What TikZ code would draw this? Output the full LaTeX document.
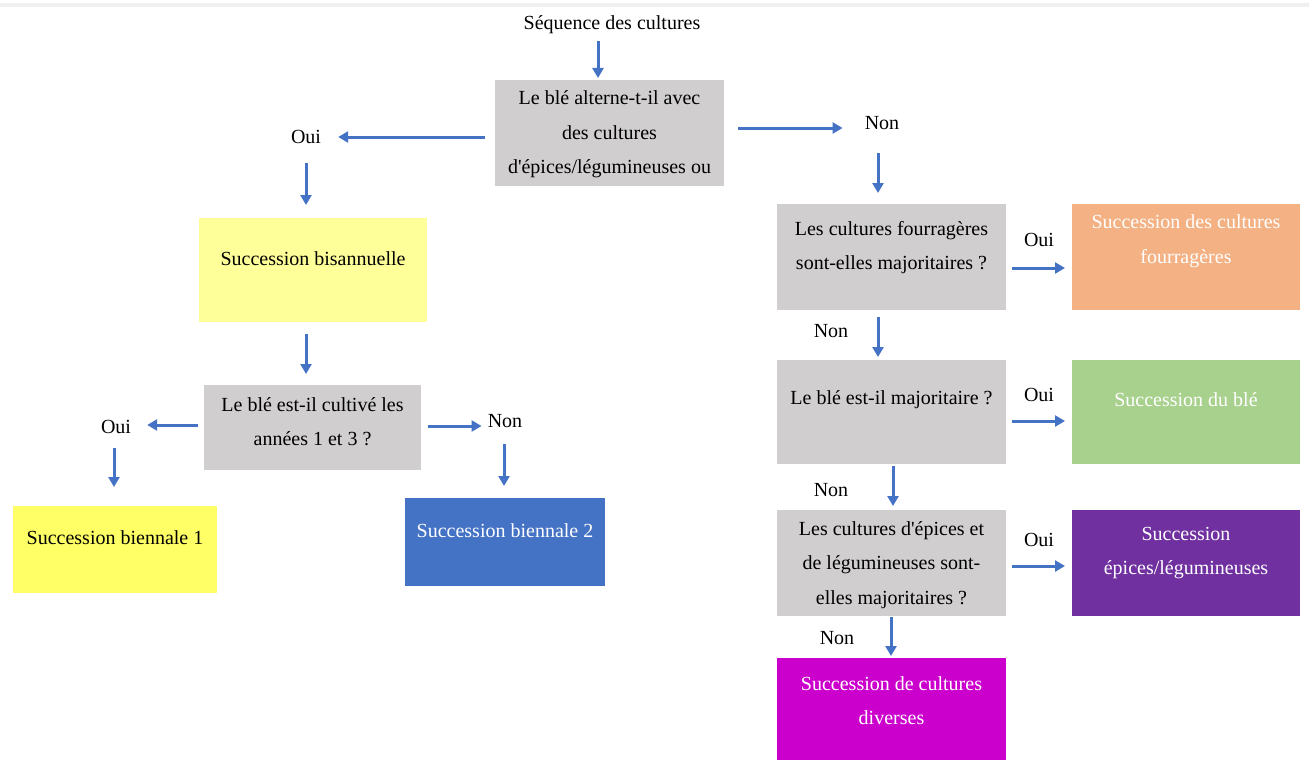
\documentclass[tikz,border=0pt]{standalone}
\usepackage{fontspec}
\setmainfont{Liberation Serif}
\usetikzlibrary{arrows.meta, calc, positioning}
\definecolor{flowblue}{HTML}{4472C4}
\definecolor{boxgray}{HTML}{D0CECE}
\definecolor{paleyellow}{HTML}{FFFF99}
\definecolor{brightyellow}{HTML}{FFFF66}
\definecolor{fourrage}{HTML}{F4B183}
\definecolor{bleggreen}{HTML}{A9D18E}
\definecolor{epicpurple}{HTML}{7030A0}
\definecolor{divmagenta}{HTML}{CC00CC}

\begin{document}
\begin{tikzpicture}[x=1pt, y=-1pt,% one unit = one pixel of the layout
      font = \fontsize{20}{34.5}\selectfont,
         > = {Triangle[length=10pt, width=11pt]},
arr/.style = {->, draw=flowblue, line width=3pt},
box/.style = {minimum width=229pt, minimum height=106pt,
              inner sep=0pt, outer sep=0pt},
txt/.style = {align=center, inner sep=0pt},
lbl/.style = {inner sep=0pt}
                        ]
	\useasboundingbox (0,0) rectangle (1309,760);
	\fill[black!6] (0,3) rectangle (1309,7);

	% question boxes
	\node[box, fill=boxgray] (q1) at (609.5,133) {};
	\node[box, fill=boxgray, minimum width=217pt, minimum height=85pt] (q2) at (312.5,427.5) {};
	\node[box, fill=boxgray] (q3) at (891.5,257) {};
	\node[box, fill=boxgray, minimum height=104pt] (q4) at (891.5,412) {};
	\node[box, fill=boxgray] (q5) at (891.5,563) {};

	% outcome boxes
	\node[box, fill=paleyellow, minimum width=228pt, minimum height=104pt] (bis) at (313,270) {};
	\node[box, fill=brightyellow, minimum width=204pt, minimum height=87pt] (b1) at (115,549.5) {};
	\node[box, fill=flowblue, minimum width=200pt, minimum height=88pt] (b2) at (505,542) {};
	\node[box, fill=fourrage, minimum width=228pt] (four) at (1186,257) {};
	\node[box, fill=bleggreen, minimum width=228pt, minimum height=104pt] (ble) at (1186,412) {};
	\node[box, fill=epicpurple, minimum width=228pt] (epic) at (1186,563) {};
	\node[box, fill=divmagenta, minimum height=102pt] (div) at (891.5,709) {};

	% texts
	\node[txt] (seq) at (612,25) {Séquence des cultures};
	\node[txt] (q1t) at ([yshift=-1.5]q1) {Le blé alterne-t-il avec\\des cultures\\d\textquotesingle épices/légumineuses ou};
	\node[txt] (q2t) at ([yshift=6]q2) {Le blé est-il cultivé les\\années 1 et 3 ?};
	\node[txt] (q3t) at ([yshift=9.5]q3) {Les cultures fourragères\\sont-elles majoritaires ?};
	\node[txt] (q4t) at ([yshift=12]q4) {Le blé est-il majoritaire ?};
	\node[txt] (q5t) at ([yshift=-2]q5) {Les cultures d\textquotesingle épices et\\de légumineuses sont-\\elles majoritaires ?};
	\node[txt] (bist) at ([yshift=11]bis) {Succession bisannuelle};
	\node[txt] (b1t) at ([yshift=11.5]b1) {Succession biennale 1};
	\node[txt, white] (b2t) at ([yshift=11]b2) {Succession biennale 2};
	\node[txt, white] (fourt) at ([yshift=16]four) {Succession des cultures\\fourragères};
	\node[txt, white] (blet) at ([yshift=12]ble) {Succession du blé};
	\node[txt, white] (epict) at ([yshift=10]epic) {Succession\\épices/légumineuses};
	\node[txt, white] (divt) at ([yshift=8.5]div) {Succession de cultures\\diverses};

	% answers
	\node[lbl] (oui1) at (306,137) {Oui};
	\node[lbl] (non1) at (882,123) {Non};
	\node[lbl] (oui2) at (116,427) {Oui};
	\node[lbl] (non2) at (505,421) {Non};
	\node[lbl] (oui3) at (1039,240) {Oui};
	\node[lbl] (non3) at (831,331) {Non};
	\node[lbl] (oui4) at (1039,395) {Oui};
	\node[lbl] (non4) at (831,490) {Non};
	\node[lbl] (oui5) at (1039,540) {Oui};
	\node[lbl] (non5) at (837,638) {Non};

	% arrows
	\draw[arr, shorten <=7pt, shorten >=2pt] ([xshift=-14]seq.south) -- ([xshift=-14]q1.north -| seq.south);
	\draw[arr, shorten <=10pt, shorten >=17pt] (oui1 -| q1.west) -- (oui1.east);
	\draw[arr, shorten <=14pt, shorten >=22pt] ([yshift=-5]non1.west -| q1.east) -- ([yshift=-5]non1.west);
	\draw[arr, shorten <=19pt, shorten >=13pt] (oui1.south) -- (bis.north -| oui1.south);
	\draw[arr, shorten <=12pt, shorten >=11pt] ([xshift=-7]bis.south) -- ([xshift=-7]q2.north -| bis.south);
	\draw[arr, shorten <=6pt, shorten >=16pt] ([yshift=2]oui2 -| q2.west) -- ([yshift=2]oui2.east);
	\draw[arr, shorten <=7pt, shorten >=6pt] ([yshift=-5]non2.west -| q2.east) -- ([yshift=-5]non2.west);
	\draw[arr, shorten <=14pt, shorten >=19pt] ([xshift=-2]oui2.south) -- ([xshift=-2]b1.north -| oui2.south);
	\draw[arr, shorten <=16pt, shorten >=12pt] ([xshift=-1]non2.south) -- ([xshift=-1]b2.north -| non2.south);
	\draw[arr, shorten <=23pt, shorten >=11pt] ([xshift=-4]non1.south) -- ([xshift=-4]q3.north -| non1.south);
	\draw[arr, shorten <=6pt, shorten >=7pt] ([yshift=-11]q3.east) -- ([yshift=-11]four.west);
	\draw[arr, shorten <=7pt, shorten >=3pt] ([xshift=-13.5]q3.south) -- ([xshift=-13.5]q4.north -| q3.south);
	\draw[arr, shorten <=6pt, shorten >=7pt] ([yshift=-9]q4.east) -- ([yshift=-9]ble.west);
	\draw[arr, shorten <=2pt, shorten >=4pt] ([xshift=1.5]q4.south) -- ([xshift=1.5]q5.north -| q4.south);
	\draw[arr, shorten <=6pt, shorten >=7pt] ([yshift=-3]q5.east) -- ([yshift=-3]epic.west);
	\draw[arr, shorten <=1pt, shorten >=2pt] ([xshift=-0.5]q5.south) -- ([xshift=-0.5]div.north -| q5.south);
\end{tikzpicture}
\end{document}
